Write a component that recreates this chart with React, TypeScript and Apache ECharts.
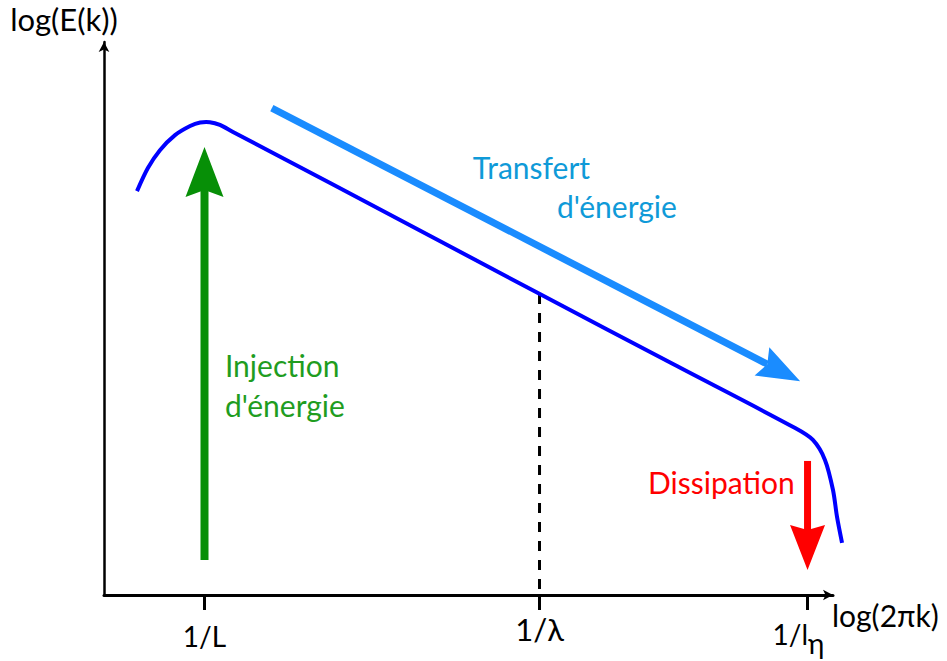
import React, { useEffect, useRef } from 'react';
import * as echarts from 'echarts';

// Spectrum curve (x: log(2πk) units, y: log(E(k)) units)
const curveX = [0.985, 1.31, 1.67, 2.12, 2.57, 2.87, 3.16, 3.46, 3.85, 6.75, 13.01, 17.0, 20.63, 21.16, 21.52, 21.76, 21.88, 22.03];
const curveY = [11.54, 12.2, 12.71, 13.14, 13.4, 13.5, 13.51, 13.43, 13.23, 11.77, 8.6, 6.59, 4.77, 4.43, 3.86, 3.0, 2.23, 1.49];

// Dashed marker at 1/λ
const dashX = [13, 13];
const dashY = [8.6, 0];

// Arrows: start -> tip (green injection, blue transfer, red dissipation)
const arrowX1 = [3.0, 5.01, 21.0];
const arrowY1 = [1.0, 13.91, 3.83];
const arrowX2 = [3.0, 20.78, 21.0];
const arrowY2 = [12.8, 6.11, 0.714];

// Annotations (left, baseline)
const noteText = ['Transfert', "d'énergie", 'Injection', "d'énergie", 'Dissipation'];
const noteX = [11.01, 13.52, 3.61, 3.61, 16.24];
const noteY = [11.89, 10.77, 6.23, 5.09, 2.91];

// Axis ticks
const tickValues = [3, 13, 21];
const tickLabels = ['1/L', '1/λ', '1/l'];
const tickSub = ['', '', 'η'];
const xName = 'log(2πk)';
const yName = 'log(E(k))';

const FONT = 'Lato';
const arrowStyles = [
  { color: '#078f07', width: 8, headLen: 50, headHalf: 19, notch: 7 },
  { color: '#1a8cff', width: 7, headLen: 43, headHalf: 16, notch: 6 },
  { color: '#ff0000', width: 7, headLen: 45, headHalf: 17.5, notch: 5 },
];
const noteColors = ['#0f9ad8', '#0f9ad8', '#1f9d1f', '#1f9d1f', '#ff0000'];
const noteSize = 30;

export default function App() {
  const ref = useRef<HTMLDivElement>(null);
  useEffect(() => {
    if (!ref.current) return;
    const chart = echarts.init(ref.current, undefined, { renderer: 'svg' });
    const tickRich = ['l', 'lam', 'e'];
    chart.setOption({
      animation: false,
      backgroundColor: '#ffffff',
      grid: { left: 104, right: 114, top: 42, bottom: 66, containLabel: false, outerBoundsMode: 'none' },
      xAxis: {
        type: 'value',
        min: 0,
        max: 21.76,
        name: xName,
        nameLocation: 'end',
        nameGap: -1,
        nameMoveOverlap: false,
        nameTextStyle: {
          fontFamily: FONT, fontSize: 30, color: '#000', align: 'left', verticalAlign: 'top',
          lineHeight: 30, padding: [5, 0, 0, 0],
        },
        axisLine: { show: true, symbol: ['none', 'arrow'], symbolSize: [8, 10], lineStyle: { color: '#000', width: 3 } },
        axisTick: { show: true, customValues: tickValues, length: 15, inside: false, lineStyle: { color: '#000', width: 3 } },
        axisLabel: {
          show: true,
          customValues: tickValues,
          margin: 15,
          verticalAlign: 'top',
          formatter: (v: number) => {
            const i = tickValues.indexOf(v);
            if (i < 0) return '';
            return '{' + tickRich[i] + '|' + tickLabels[i] + '}' + (tickSub[i] ? '{sub|' + tickSub[i] + '}' : '');
          },
          rich: {
            l: { fontFamily: FONT, fontSize: 28, lineHeight: 28, color: '#000', verticalAlign: 'top', padding: [12, 0, 0, 0] },
            lam: { fontFamily: FONT, fontSize: 31, lineHeight: 31, color: '#000', verticalAlign: 'top', padding: [3, 0, 0, 0] },
            e: { fontFamily: FONT, fontSize: 28, lineHeight: 28, color: '#000', verticalAlign: 'top', padding: [10, 0, 0, 0] },
            sub: { fontFamily: FONT, fontSize: 28, lineHeight: 28, color: '#000', verticalAlign: 'top', padding: [19, 18, 0, 0] },
          },
        },
        splitLine: { show: false },
      },
      yAxis: {
        type: 'value',
        min: 0,
        max: 15.8,
        name: yName,
        nameLocation: 'end',
        nameGap: 8,
        nameMoveOverlap: false,
        nameTextStyle: {
          fontFamily: FONT, fontSize: 31, color: '#000', align: 'center', lineHeight: 31, padding: [0, 80, 0, 0],
        },
        axisLine: { show: true, symbol: ['none', 'arrow'], symbolSize: [8, 10], lineStyle: { color: '#000', width: 2.5 } },
        axisTick: { show: false },
        axisLabel: { show: false },
        splitLine: { show: false },
      },
      series: [
        {
          type: 'custom',
          data: curveX.map((x, i) => [x, curveY[i]]),
          z: 3,
          renderItem: (params: any, api: any) => {
            if (params.dataIndex !== 0) return null;
            const pts = curveX.map((x, k) => api.coord([x, curveY[k]]));
            return {
              type: 'polyline',
              shape: { points: pts, smooth: 0.3 },
              style: { stroke: '#0000ff', lineWidth: 4, fill: 'none', lineJoin: 'round' },
            };
          },
        },
        {
          type: 'line',
          data: dashX.map((x, i) => [x, dashY[i]]),
          showSymbol: false,
          lineStyle: { color: '#000', width: 3, type: [10, 9] },
          z: 2,
        },
        {
          type: 'custom',
          data: arrowX1.map((x, i) => [x, arrowY1[i], arrowX2[i], arrowY2[i]]),
          encode: { x: [0, 2], y: [1, 3] },
          z: 4,
          renderItem: (params: any, api: any) => {
            const s = arrowStyles[params.dataIndex];
            const p1 = api.coord([api.value(0), api.value(1)]);
            const p2 = api.coord([api.value(2), api.value(3)]);
            const dx = p2[0] - p1[0];
            const dy = p2[1] - p1[1];
            const len = Math.hypot(dx, dy);
            const ux = dx / len;
            const uy = dy / len;
            const nx = -uy;
            const ny = ux;
            const bx = p2[0] - ux * s.headLen;
            const by = p2[1] - uy * s.headLen;
            const mx = p2[0] - ux * (s.headLen - s.notch);
            const my = p2[1] - uy * (s.headLen - s.notch);
            return {
              type: 'group',
              children: [
                { type: 'line', shape: { x1: p1[0], y1: p1[1], x2: mx, y2: my }, style: { stroke: s.color, lineWidth: s.width, lineCap: 'butt' } },
                {
                  type: 'polygon',
                  shape: { points: [[p2[0], p2[1]], [bx + nx * s.headHalf, by + ny * s.headHalf], [mx, my], [bx - nx * s.headHalf, by - ny * s.headHalf]] },
                  style: { fill: s.color },
                },
              ],
            };
          },
        },
        {
          type: 'custom',
          data: noteX.map((x, i) => [x, noteY[i]]),
          z: 5,
          renderItem: (params: any, api: any) => {
            const i = params.dataIndex;
            const p = api.coord([api.value(0), api.value(1)]);
            return {
              type: 'text',
              x: p[0],
              y: p[1] - 0.387 * noteSize,
              style: {
                text: noteText[i],
                fill: noteColors[i],
                font: noteSize + 'px ' + FONT,
                align: 'left',
                verticalAlign: 'middle',
              },
            };
          },
        },
      ],
    });
    return () => chart.dispose();
  }, []);
  return <div ref={ref} style={{ position: 'fixed', left: 0, top: 0, width: 947, height: 661, background: '#fff' }} />;
}
